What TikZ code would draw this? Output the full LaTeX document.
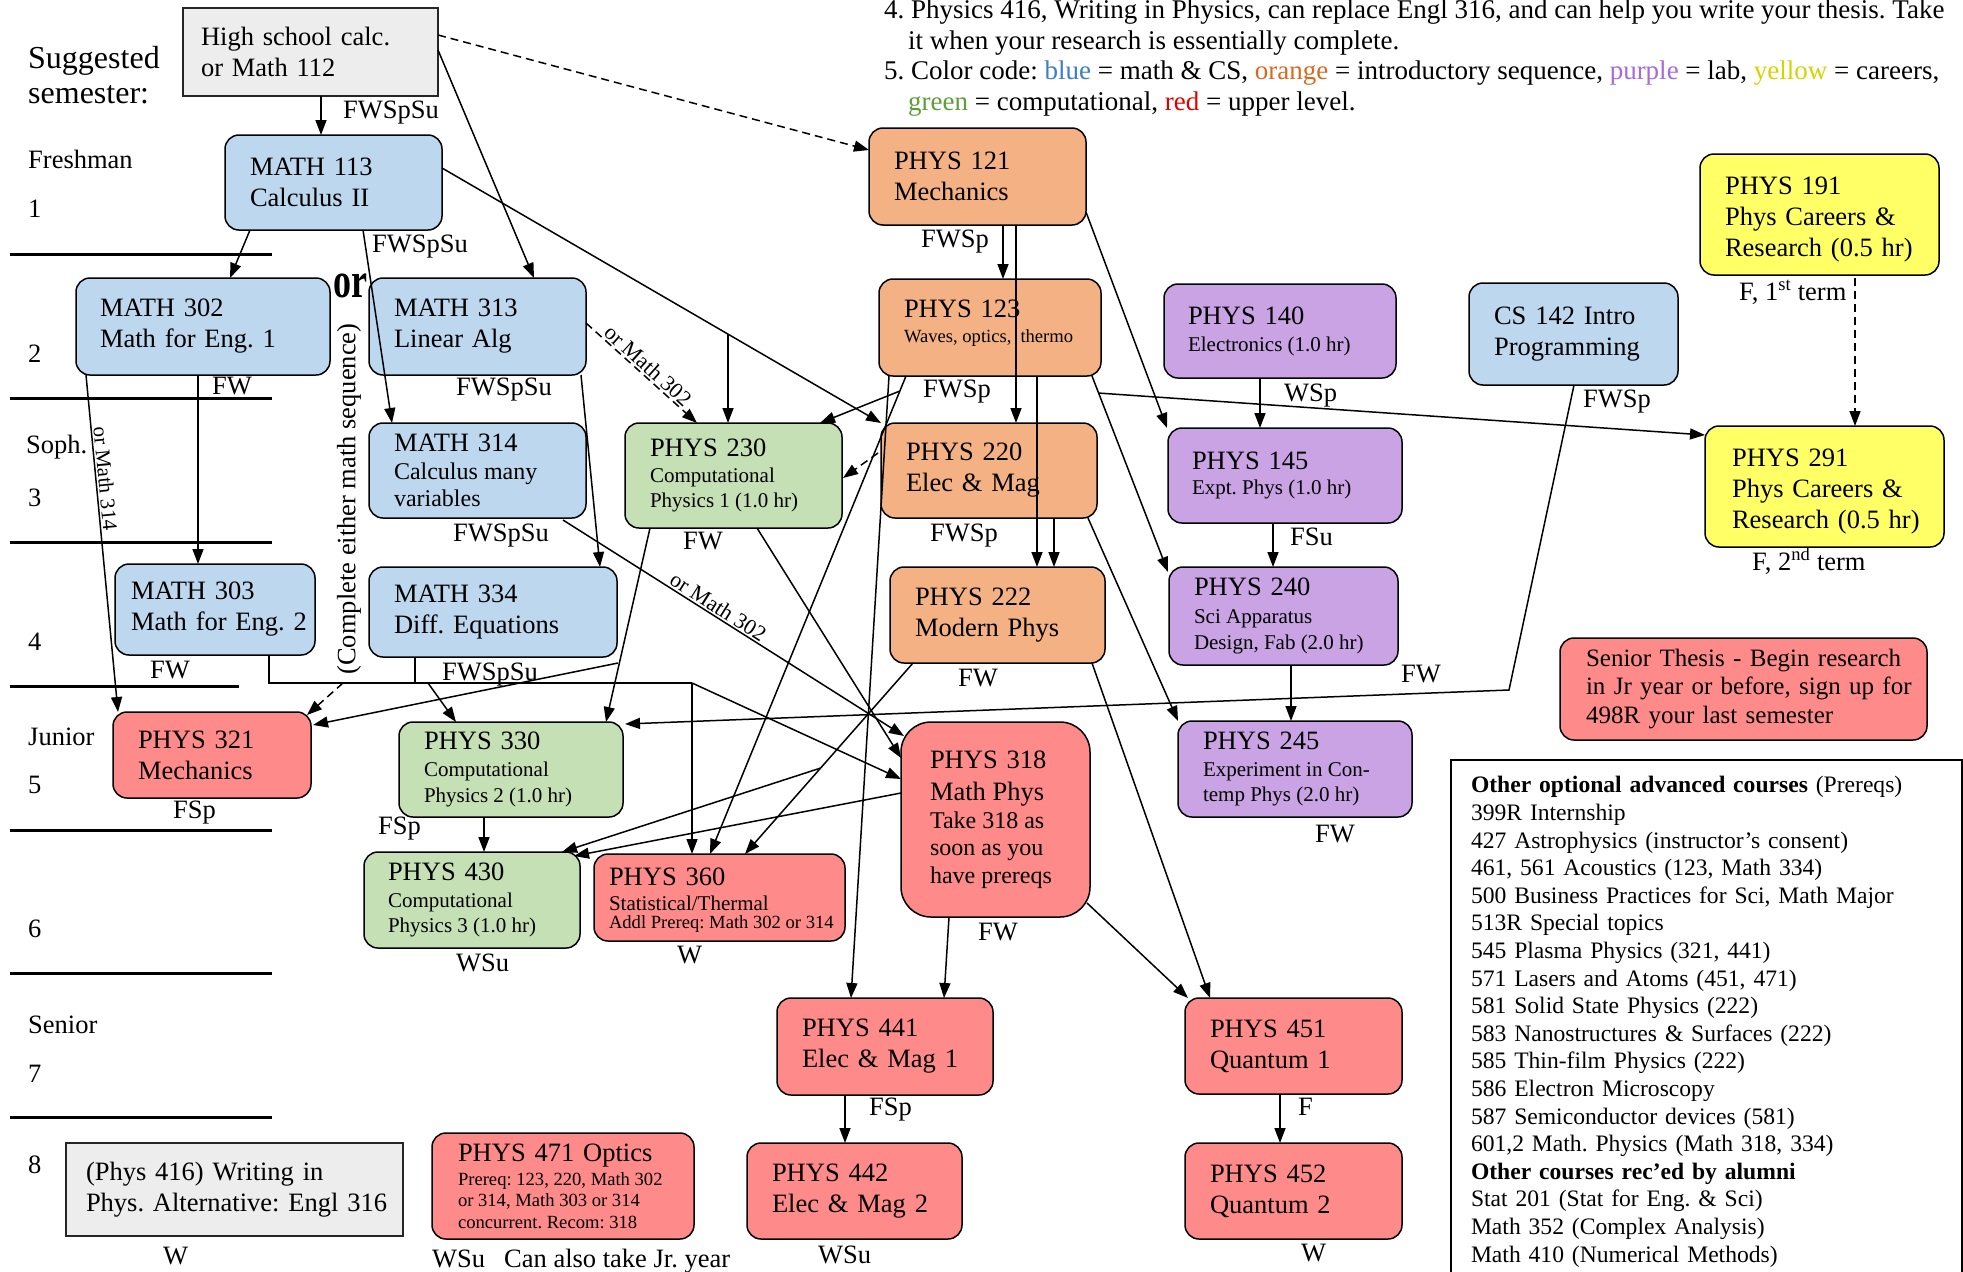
\documentclass[tikz,border=0pt]{standalone}
\usepackage{fontspec}
\setmainfont{Liberation Serif}
\usetikzlibrary{arrows.meta,calc}
\definecolor{cblue}{HTML}{BDD7EE}
\definecolor{corange}{HTML}{F4B183}
\definecolor{cpurple}{HTML}{C9A3E3}
\definecolor{cgreen}{HTML}{C5E0B4}
\definecolor{cred}{HTML}{FF8A8A}
\definecolor{cyellow}{HTML}{FFFF66}
\definecolor{cgray}{HTML}{EDEDED}
\definecolor{tblue}{HTML}{3C7DC4}
\definecolor{torange}{HTML}{D9691E}
\definecolor{tpurple}{HTML}{A569E0}
\definecolor{tyellow}{HTML}{D4D400}
\definecolor{tgreen}{HTML}{5E9E3A}
\definecolor{tred}{HTML}{E00000}
\newcommand\setsp{\spaceskip=0.25em plus 0.08em minus 0.05em\relax}
\newcommand\fmain{\fontsize{26.5}{31}\selectfont\setsp}
\newcommand\fmainB{\fontsize{26.5}{27.5}\selectfont\setsp}
\newcommand\fsub{\fontsize{21}{25.5}\selectfont\setsp}
\newcommand\fsmall{\fontsize{18.6}{21.5}\selectfont\setsp}
\newcommand\fmid{\fontsize{24}{27.5}\selectfont\setsp}
\newcommand\fopt{\fontsize{23.6}{27.6}\selectfont\setsp}
\newcommand\fnote{\fontsize{27}{31}\selectfont\setsp}
\newcommand\fthesis{\fontsize{25}{28.5}\selectfont\setsp}
\newcommand\fbig{\fontsize{32}{35}\selectfont\setsp}
\tikzset{
  box/.style={draw=black, line width=1.5pt, rounded corners=14pt, outer sep=0pt, inner ysep=2pt, align=left, font=\fmain},
  szp/.code n args={3}{\pgfmathsetmacro\mytw{#1-2*#3}\edef\mytmp{\noexpand\tikzset{minimum width=#1pt,minimum height=#2pt,inner xsep=#3pt,text width=\mytw pt}}\mytmp},
  sz/.style 2 args={szp={#1}{#2}{25}},
  conn/.style={line width=1.5pt, -{Triangle[length=15pt,width=11pt]}},
  dconn/.style={conn, dash pattern=on 8pt off 5pt},
  tlab/.style={anchor=base west, inner sep=0pt, font=\fmain},
  lblsm/.style={font=\fontsize{22}{24}\selectfont\setsp, inner sep=1.5pt},
}
\begin{document}
\frenchspacing
\begin{tikzpicture}[x=1pt,y=-1pt]
\useasboundingbox (0,0) rectangle (1963,1272);
\fill[white] (0,0) rectangle (1963,1272);

% semester separators
\foreach \yy in {254,398,542,830,973,1117} \draw[line width=3pt] (10,\yy) -- (272,\yy);
\draw[line width=3pt] (10,686) -- (239,686);

% semester labels
\node[tlab, font=\fbig] (sugA) at (28,68) {Suggested};
\node[tlab, font=\fbig] (sugB) at (28,103) {semester:};
\node[tlab] (sFr) at (28,168) {Freshman};
\node[tlab] (s1) at (28,217) {1};
\node[tlab] (s2) at (28,362) {2};
\node[tlab] (sSo) at (26,453) {Soph.};
\node[tlab] (s3) at (28,506) {3};
\node[tlab] (s4) at (28,650) {4};
\node[tlab] (sJu) at (28,745) {Junior};
\node[tlab] (s5) at (28,793) {5};
\node[tlab] (s6) at (28,937) {6};
\node[tlab] (sSe) at (28,1033) {Senior};
\node[tlab] (s7) at (28,1082) {7};
\node[tlab] (s8) at (28,1173) {8};

% notes
\node[tlab, font=\fnote] (n4a) at (884,18.5) {4. Physics 416, Writing in Physics, can replace Engl 316, and can help you write your thesis. Take};
\node[tlab, font=\fnote] (n4b) at (908,49) {it when your research is essentially complete.};
\node[tlab, font=\fnote] (n5a) at (884,79.5) {5. Color code: \textcolor{tblue}{blue} = math \& CS, \textcolor{torange}{orange} = introductory sequence, \textcolor{tpurple}{purple} = lab, \textcolor{tyellow}{yellow} = careers,};
\node[tlab, font=\fnote] (n5b) at (908,110) {\textcolor{tgreen}{green} = computational, \textcolor{tred}{red} = upper level.};

% boxes
\node[box, sharp corners, fill=cgray, draw=black!85, szp={255}{88}{18}] (hs) at (310.5,52) {\mbox{High school calc.}\\\mbox{or Math 112}};
\node[box, fill=cblue, sz={217}{95}] (m113) at (333.5,182.5) {\mbox{MATH 113}\\\mbox{Calculus II}};
\node[box, fill=cblue, szp={254}{97}{24}] (m302) at (203,326.5) {\mbox{MATH 302}\\\mbox{Math for Eng. 1}};
\node[box, fill=cblue, sz={217}{97}] (m313) at (477.5,326.5) {\mbox{MATH 313}\\\mbox{Linear Alg}};
\node[box, fill=cblue, sz={217}{95}] (m314) at (477.5,470.5) {\mbox{MATH 314}\\\fmid\mbox{Calculus many}\\\mbox{variables}\par};
\node[box, fill=cblue, szp={200}{91}{16}] (m303) at (215,609.5) {\mbox{MATH 303}\\\mbox{Math for Eng. 2}};
\node[box, fill=cblue, sz={248}{90}] (m334) at (493,612) {\mbox{MATH 334}\\\mbox{Diff. Equations}};
\node[box, fill=cred, sz={198}{86}] (p321) at (212,755) {\mbox{PHYS 321}\\\mbox{Mechanics}};
\node[box, fill=cgreen, sz={224}{95}] (p330) at (511,769.5) {\mbox{PHYS 330}\\[1.5pt]\fsub\mbox{Computational}\\\mbox{Physics 2 (1.0 hr)}\par};
\node[box, fill=cgreen, szp={216}{96}{24}] (p430) at (472,900) {\mbox{PHYS 430}\\[1.5pt]\fsub\mbox{Computational}\\\mbox{Physics 3 (1.0 hr)}\par};
\node[box, fill=cred, szp={251}{87}{15}] (p360) at (719.5,897.5) {\rule{0pt}{22pt}\mbox{PHYS 360}\\\fsub\mbox{Statistical/Thermal}\\[-4pt]\fsmall\mbox{Addl Prereq: Math 302 or 314}\par};
\node[box, fill=cgreen, sz={217}{105}] (p230) at (733.5,475.5) {\mbox{PHYS 230}\\\fsub\mbox{Computational}\\\mbox{Physics 1 (1.0 hr)}\par};
\node[box, fill=corange, sz={217}{97}] (p121) at (977.5,176.5) {\mbox{PHYS 121}\\\mbox{Mechanics}};
\node[box, fill=corange, sz={222}{97}] (p123) at (990,327.5) {\mbox{PHYS 123}\\[3.5pt]\fsmall\mbox{Waves, optics,\hspace{9pt}thermo}\rule[-12pt]{0pt}{12pt}\par};
\node[box, fill=corange, sz={216}{95}] (p220) at (989,470.5) {\mbox{PHYS 220}\\\mbox{Elec \& Mag}};
\node[box, fill=corange, sz={215}{96}] (p222) at (997.5,615) {\mbox{PHYS 222}\\\mbox{Modern Phys}};
\node[box, fill=cred, rounded corners=30pt, szp={189}{195}{29}] (p318) at (995.5,819.5) {\mbox{PHYS 318}\\[4.5pt]\fmainB\mbox{Math Phys}\\\fmid\mbox{Take 318 as}\\\mbox{soon as you}\\\mbox{have prereqs}\par};
\node[box, fill=cred, sz={216}{97}] (p441) at (885,1046.5) {\mbox{PHYS 441}\\\mbox{Elec \& Mag 1}};
\node[box, fill=cred, sz={215}{96}] (p442) at (854.5,1191) {\mbox{PHYS 442}\\\mbox{Elec \& Mag 2}};
\node[box, fill=cred, sz={217}{96}] (p451) at (1293.5,1046) {\mbox{PHYS 451}\\\mbox{Quantum 1}};
\node[box, fill=cred, sz={217}{96}] (p452) at (1293.5,1191) {\mbox{PHYS 452}\\\mbox{Quantum 2}};
\node[box, fill=cred, szp={262}{106}{26}] (p471) at (563,1186) {\mbox{PHYS 471 Optics}\\[2.5pt]\fsmall\mbox{Prereq: 123, 220, Math 302}\\\mbox{or 314, Math 303 or 314}\\\mbox{concurrent. Recom: 318}\par};
\node[box, sharp corners, fill=cgray, draw=black!85, szp={337}{93}{20}] (w416) at (234.5,1189.5) {\mbox{(Phys 416) Writing in}\\\mbox{Phys. Alternative: Engl 316}};
\node[box, fill=cpurple, szp={232}{94}{24}] (p140) at (1280,331) {\mbox{PHYS 140}\\[1.5pt]\fsub\mbox{Electronics (1.0 hr)}\par};
\node[box, fill=cpurple, szp={234}{95}{24}] (p145) at (1285,475.5) {\mbox{PHYS 145}\\\fsub\mbox{Expt. Phys (1.0 hr)}\par};
\node[box, fill=cpurple, sz={229}{98}] (p240) at (1283.5,616) {\mbox{PHYS 240}\\[2.5pt]\fsub\mbox{Sci Apparatus}\\\mbox{Design, Fab (2.0 hr)}\par};
\node[box, fill=cpurple, sz={234}{96}] (p245) at (1295,769) {\mbox{PHYS 245}\\[1.5pt]\fsub\mbox{Experiment in Con-}\\\mbox{temp Phys (2.0 hr)}\par};
\node[box, fill=cblue, sz={209}{102}] (cs142) at (1573.5,334) {\mbox{CS 142 Intro}\\\mbox{Programming}};
\node[box, fill=cyellow, sz={239}{121}] (p191) at (1819.5,214.5) {\rule{0pt}{28pt}\mbox{PHYS 191}\\\mbox{Phys Careers \&}\\\mbox{Research (0.5 hr)}};
\node[box, fill=cyellow, szp={239}{121}{27}] (p291) at (1824.5,486.5) {\rule{0pt}{28pt}\mbox{PHYS 291}\\\mbox{Phys Careers \&}\\\mbox{Research (0.5 hr)}};
\node[box, fill=cred, font=\fthesis, szp={367}{102}{26}] (thesis) at (1743.5,689) {\mbox{Senior Thesis - Begin research}\\\mbox{in Jr year or before, sign up for}\\\mbox{498R your last semester}};
\node[draw=black, line width=1.5pt, anchor=north west, outer sep=0pt, inner xsep=20pt, inner ysep=16.6pt, text width=471pt, align=left, font=\fopt] (opts) at (1451,760) {%
\textbf{Other optional advanced courses} (Prereqs)\\
399R Internship\\
427 Astrophysics (instructor’s consent)\\
461, 561 Acoustics (123, Math 334)\\
500 Business Practices for Sci, Math Major\\
513R Special topics\\
545 Plasma Physics (321, 441)\\
571 Lasers and Atoms (451, 471)\\
581 Solid State Physics (222)\\
583 Nanostructures \& Surfaces (222)\\
585 Thin-film Physics (222)\\
586 Electron Microscopy\\
587 Semiconductor devices (581)\\
601,2 Math. Physics (Math 318, 334)\\
\textbf{Other courses rec’ed by alumni}\\
Stat 201 (Stat for Eng. \& Sci)\\
Math 352 (Complex Analysis)\\
Math 410 (Numerical Methods)};

% free texts
\node[rotate=90, font=\fmain, inner sep=0pt] (cemsq) at (349,499) {(Complete either math sequence)};
\node[inner sep=0pt] (orlbl) at (350,286) {\scalebox{0.72}[1]{\fontsize{50}{50}\selectfont\bfseries or}};

% connectors
\draw[conn] ($(hs.south west)+(138,0)$) -- ($(m113.north west)+(96,0)$);
\draw[dconn] ($(hs.north east)+(0,27)$) -- ($(p121.north west)+(0,22)$);
\draw[conn] ($(hs.north east)+(0,42)$) -- ($(m313.north west)+(165,0)$);
\draw[conn] ($(m113.south west)+(25,0)$) -- ($(m302.north west)+(154,0)$);
\draw[conn] ($(m113.south west)+(138,0)$) -- ($(m314.north west)+(23,0)$);
\draw[conn] ($(m113.north east)+(0,33)$) -- coordinate[pos=0.6515] (brA) (p220.north west);
\draw[conn] (brA) -- (brA |- p230.north);
\draw[conn] ($(m302.south west)+(122,0)$) -- ($(m303.north west)+(83,0)$);
\draw[conn] ($(m302.south west)+(10,0)$) -- node[pos=0.31, sloped, above, lblsm, font=\fsub]{or Math 314} ($(p321.north west)+(5,0)$);
\draw[dconn] ($(m313.north east)+(0,45)$) -- node[pos=0.5, sloped, above, lblsm]{or Math 302} ($(p230.north west)+(72,0)$);
\draw[conn] ($(m313.south east)+(-5,0)$) -- ($(m334.north west)+(231,0)$);
\draw[conn] ($(p123.south west)+(27,0)$) -- coordinate[pos=0.0314] (brE) ($(p360.north west)+(116,0)$);
\draw[conn] (brE) -- ($(p230.north east)+(-22,0)$);
\draw[dconn] ($(p220.north west)+(-3,30)$) -- ($(p230.north east)+(1,55)$);
\draw[conn] ($(p121.south west)+(134,0)$) -- ($(p123.north west)+(124,0)$);
\draw[conn] ($(p121.south west)+(147,0)$) -- ($(p220.north west)+(135,0)$);
\draw[conn] ($(p123.south west)+(158,0)$) -- ($(p222.north west)+(147,0)$);
\draw[conn] ($(p220.south west)+(173,0)$) -- ($(p222.north west)+(164,0)$);
\draw[conn] ($(p121.south east)+(0,-13)$) -- ($(p145.north west)+(-1,0)$);
\draw[conn] ($(p123.south east)+(-9,0)$) -- coordinate[pos=0.087] (brF) ($(p240.north west)+(-1,5)$);
\draw[conn] (brF) -- ($(p291.north west)+(0,9)$);
\draw[conn] ($(p220.south east)+(-9,0)$) -- (p245.north west);
\draw[conn] ($(p222.south east)+(-13,0)$) -- ($(p451.north west)+(25,0)$);
\draw[conn] ($(p318.south east)+(-3,-14)$) -- ($(p451.north west)+(3,0)$);
\draw[conn] ($(p140.south west)+(96,0)$) -- ($(p145.north west)+(92,0)$);
\draw[conn] ($(p145.south west)+(105,0)$) -- ($(p240.north west)+(104,0)$);
\draw[conn] ($(p240.south west)+(122,0)$) -- ($(p245.north west)+(113,0)$);
\coordinate (csb) at (1509,690);
\draw[conn] ($(cs142.south west)+(105,0)$) -- (csb) -- ($(p330.north east)+(2,2)$);
\draw[dconn] ($(p191.south west)+(155,3)$) -- ($(p291.north west)+(150,0)$);
% math sequence bracket
\coordinate (jn) at (692,683);
\coordinate (jb) at (428,683);
\coordinate (jd) at (343,683);
\draw[line width=1.8pt] ($(m303.south west)+(154,0)$) |- (jn);
\draw[line width=1.8pt] ($(m334.south west)+(46,0)$) -- ($(m334.south west)+(46,26)$);
\draw[conn] (jn) -- ($(p318.north west)+(0,57)$);
\draw[conn] (jn) -- (jn |- p360.north);
\draw[conn] (jb) -- ($(p330.north west)+(57,0)$);
\draw[dconn] (jd) -- ($(p321.north east)+(-4,3)$);
\draw[conn] ($(m334.south east)+(1,6)$) -- ($(p321.north east)+(2,13)$);
\draw[conn] ($(p230.south west)+(25,0)$) -- ($(p330.north east)+(-17,0)$);
\draw[conn] ($(p230.south west)+(132,0)$) -- ($(p318.north west)+(0,36)$);
\draw[conn] ($(m314.south east)+(-23,2)$) -- node[pos=0.44, sloped, above, lblsm]{or Math 302} ($(p318.north west)+(3,14)$);
\draw[conn] ($(p222.south west)+(23,0)$) -- coordinate[pos=0.55] (brC) ($(p360.north west)+(151,0)$);
\draw[conn] (brC) -- ($(p430.north east)+(-18,0)$);
\draw[conn] ($(p318.north west)+(0,71)$) -- ($(p430.north east)+(-6,4)$);
\draw[conn] ($(p318.south west)+(48,0)$) -- ($(p441.north west)+(167,0)$);
\draw[conn] ($(p123.south west)+(10,0)$) -- ($(p441.north west)+(74,0)$);
\draw[conn] ($(p441.south west)+(68,0)$) -- ($(p442.north west)+(98,0)$);
\draw[conn] ($(p451.south west)+(95,0)$) -- ($(p452.north west)+(95,0)$);
\draw[conn] ($(p330.south west)+(85,0)$) -- ($(p430.north west)+(120,0)$);

% term labels
\node[tlab] (thsA) at (343,118) {FWSpSu};
\node[tlab] (t113) at (372,252) {FWSpSu};
\node[tlab] (t302) at (212,394) {FW};
\node[tlab] (t313) at (456,395) {FWSpSu};
\node[tlab] (t314) at (453,541) {FWSpSu};
\node[tlab] (t303) at (150,678) {FW};
\node[tlab] (t334) at (442,680) {FWSpSu};
\node[tlab] (t321) at (173,818) {FSp};
\node[tlab] (t330) at (378,834) {FSp};
\node[tlab] (t430) at (456,971) {WSu};
\node[tlab] (t360) at (677,963) {W};
\node[tlab] (t230) at (683,549) {FW};
\node[tlab] (t121) at (921,247) {FWSp};
\node[tlab] (t123) at (923,397) {FWSp};
\node[tlab] (t220) at (930,541) {FWSp};
\node[tlab] (t222) at (958,686) {FW};
\node[tlab] (t318) at (978,940) {FW};
\node[tlab] (t441) at (869,1115) {FSp};
\node[tlab] (t442) at (818,1263) {WSu};
\node[tlab] (t451) at (1298,1115) {F};
\node[tlab] (t452) at (1301,1261) {W};
\node[tlab] (t471) at (432,1267) {WSu};
\node[tlab] (t471b) at (504,1267) {Can also take Jr. year};
\node[tlab] (t416) at (163,1264) {W};
\node[tlab] (t140) at (1284,401) {WSp};
\node[tlab] (t142) at (1583,407) {FWSp};
\node[tlab] (t145) at (1290,545) {FSu};
\node[tlab] (t240) at (1401,682) {FW};
\node[tlab] (t245) at (1315,842) {FW};
\node[tlab] (t191) at (1739,300) {F, 1\textsuperscript{st} term};
\node[tlab] (t291) at (1752,570) {F, 2\textsuperscript{nd} term};
\end{tikzpicture}
\end{document}
